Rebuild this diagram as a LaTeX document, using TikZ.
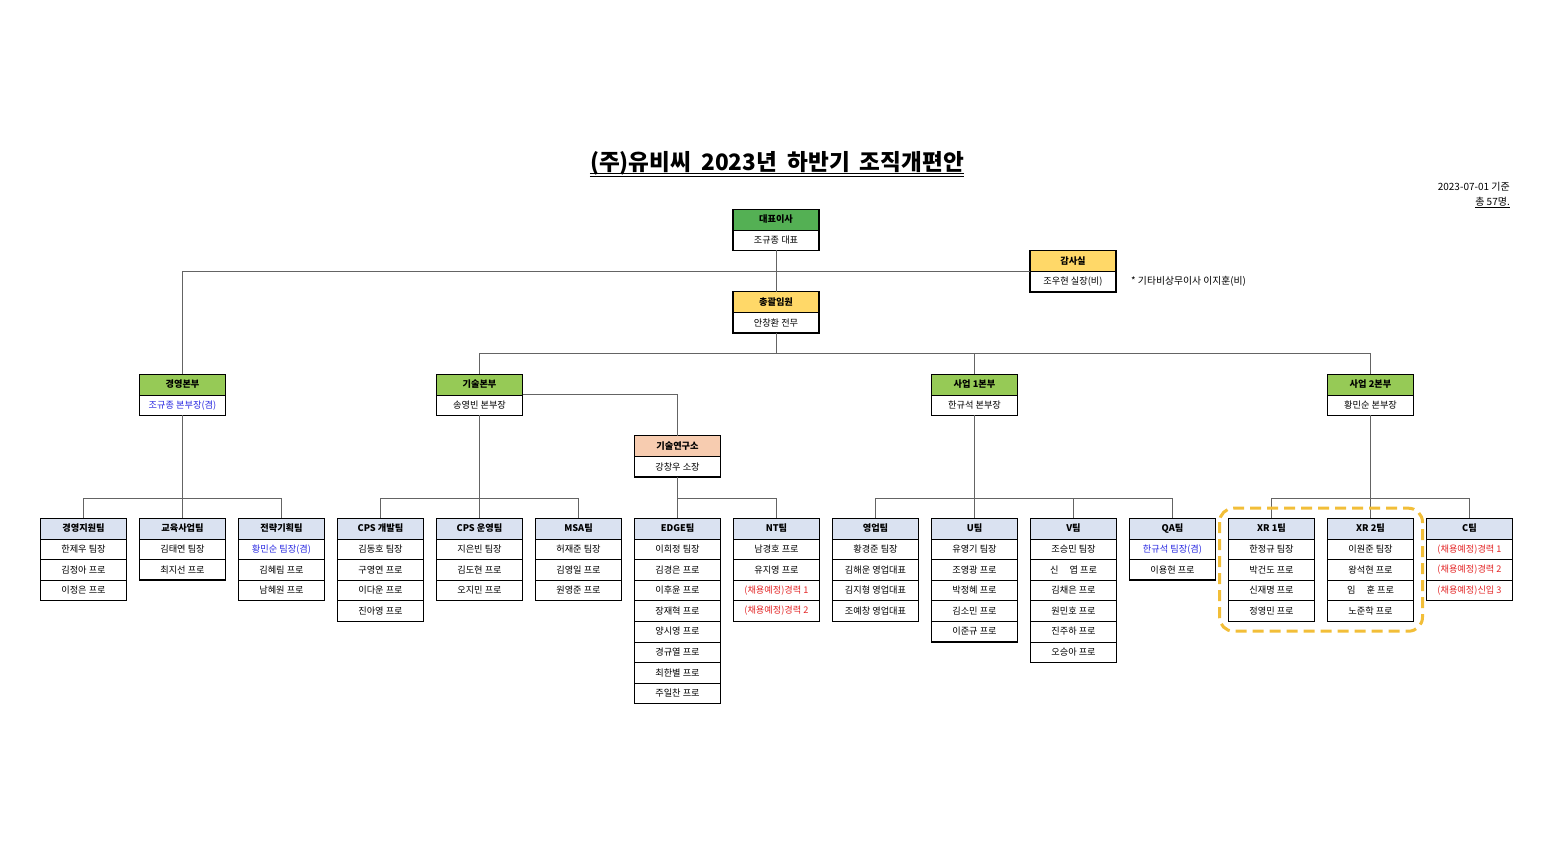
\documentclass[tikz,border=0pt]{standalone}
\usepackage{fontspec}
\setmainfont{Noto Sans CJK KR}
\usepackage{tikz}
\usetikzlibrary{positioning, calc}
\definecolor{ceogreen}{RGB}{84,176,84}
\definecolor{divgreen}{RGB}{150,202,86}
\definecolor{execyellow}{RGB}{255,216,104}
\definecolor{labpeach}{RGB}{247,204,176}
\definecolor{teamblue}{RGB}{218,226,241}
\definecolor{actblue}{RGB}{40,40,225}
\definecolor{hirered}{RGB}{228,40,40}
\definecolor{linkgray}{RGB}{100,100,100}
\definecolor{xrgold}{RGB}{242,190,56}

\begin{document}
\begin{tikzpicture}[
  x=1pt,y=-1pt,
  cell/.style={
    rectangle, draw=black, line width=0.6pt, fill=white,
    minimum width=86pt, minimum height=20.6pt, inner sep=0pt, outer sep=0pt,
    font=\fontsize{9.2}{10}\selectfont
  },
  headcell/.style={cell, font=\fontsize{9.2}{10}\selectfont\bfseries},
  teamhead/.style={headcell, fill=teamblue},
  divhead/.style={headcell, fill=divgreen},
  acting/.style={text=actblue},
  hire/.style={text=hirered},
  boxframe/.style={draw=black, line width=1.3pt},
  conn/.style={draw=linkgray, line width=0.8pt},
  xrframe/.style={draw=xrgold, line width=3pt, dash pattern=on 11pt off 6pt, rounded corners=14pt}
]
\useasboundingbox (0,0) rectangle (1550,846);

% ---- title ----
\node[anchor=base, inner sep=0pt, font=\fontsize{22.6}{26}\selectfont\bfseries] (title) at (777,170) {(주)유비씨\hspace{0.45em}2023년\hspace{0.45em}하반기\hspace{0.45em}조직개편안};
\draw[line width=1.6pt] ([yshift=-3.5pt]title.base west) -- ([yshift=-3.5pt]title.base east);
\draw[line width=0.7pt] ([yshift=-6.3pt]title.base west) -- ([yshift=-6.3pt]title.base east);

\node[anchor=base east, inner sep=0pt, font=\fontsize{10}{12}\selectfont] (date)  at (1510,190) {2023-07-01 기준};
\node[anchor=base east, inner sep=0pt, font=\fontsize{10}{12}\selectfont] (total) at (1510,205) {\underline{총 57명.}};

% ---- top ----
\node[headcell, fill=ceogreen]   (ceo)       at (776,219.5) {대표이사};
\node[cell, below=0pt of ceo]    (ceoName)   {조규종 대표};
\node[headcell, fill=execyellow] (audit)     at (1073,261) {감사실};
\node[cell, below=0pt of audit]  (auditName) {조우현 실장(비)};
\node[anchor=base west, inner sep=0pt, font=\fontsize{9.8}{11}\selectfont] (auditNote) at (1131,284) {* 기타비상무이사 이지훈(비)};
\node[headcell, fill=execyellow] (gm)        at (776,302) {총괄임원};
\node[cell, below=0pt of gm]     (gmName)    {안창환 전무};

% ---- divisions ----
\node[divhead]                    (divMgmt)     at (182.5,384.5)  {경영본부};
\node[cell, acting, below=0pt of divMgmt] (divMgmtName) {조규종 본부장(겸)};
\node[divhead]                    (divTech)     at (479.5,384.5)  {기술본부};
\node[cell, below=0pt of divTech] (divTechName) {송영빈 본부장};
\node[divhead]                    (divBiz1)     at (974.5,384.5)  {사업 1본부};
\node[cell, below=0pt of divBiz1] (divBiz1Name) {한규석 본부장};
\node[divhead]                    (divBiz2)     at (1370.5,384.5) {사업 2본부};
\node[cell, below=0pt of divBiz2] (divBiz2Name) {황민순 본부장};
\node[headcell, fill=labpeach]    (lab)         at (677.5,446)    {기술연구소};
\node[cell, below=0pt of lab]     (labName)     {강창우 소장};

% ---- teams ----
\node[teamhead] (mgmtsup) at (83.5,528.5) {경영지원팀};
\node[cell, below=0pt of mgmtsup]  (mgmtsup1) {한제우 팀장};
\node[cell, below=0pt of mgmtsup1] (mgmtsup2) {김정아 프로};
\node[cell, below=0pt of mgmtsup2] (mgmtsup3) {이정은 프로};

\node[teamhead] (edu) at (182.5,528.5) {교육사업팀};
\node[cell, below=0pt of edu]  (edu1) {김태연 팀장};
\node[cell, below=0pt of edu1] (edu2) {최지선 프로};

\node[teamhead] (strat) at (281.5,528.5) {전략기획팀};
\node[cell, acting, below=0pt of strat] (strat1) {황민순 팀장(겸)};
\node[cell, below=0pt of strat1] (strat2) {김혜림 프로};
\node[cell, below=0pt of strat2] (strat3) {남혜원 프로};

\node[teamhead] (cpsdev) at (380.5,528.5) {CPS 개발팀};
\node[cell, below=0pt of cpsdev]  (cpsdev1) {김동호 팀장};
\node[cell, below=0pt of cpsdev1] (cpsdev2) {구영연 프로};
\node[cell, below=0pt of cpsdev2] (cpsdev3) {이다운 프로};
\node[cell, below=0pt of cpsdev3] (cpsdev4) {진아영 프로};

\node[teamhead] (cpsops) at (479.5,528.5) {CPS 운영팀};
\node[cell, below=0pt of cpsops]  (cpsops1) {지은빈 팀장};
\node[cell, below=0pt of cpsops1] (cpsops2) {김도현 프로};
\node[cell, below=0pt of cpsops2] (cpsops3) {오지민 프로};

\node[teamhead] (msa) at (578.5,528.5) {MSA팀};
\node[cell, below=0pt of msa]  (msa1) {허재준 팀장};
\node[cell, below=0pt of msa1] (msa2) {김영일 프로};
\node[cell, below=0pt of msa2] (msa3) {원영준 프로};

\node[teamhead] (edge) at (677.5,528.5) {EDGE팀};
\node[cell, below=0pt of edge]  (edge1) {이희정 팀장};
\node[cell, below=0pt of edge1] (edge2) {김경은 프로};
\node[cell, below=0pt of edge2] (edge3) {이후윤 프로};
\node[cell, below=0pt of edge3] (edge4) {장재혁 프로};
\node[cell, below=0pt of edge4] (edge5) {양시영 프로};
\node[cell, below=0pt of edge5] (edge6) {경규열 프로};
\node[cell, below=0pt of edge6] (edge7) {최한별 프로};
\node[cell, below=0pt of edge7] (edge8) {주일찬 프로};

\node[teamhead] (nt) at (776.5,528.5) {NT팀};
\node[cell, below=0pt of nt]        (nt1) {남경호 프로};
\node[cell, below=0pt of nt1]       (nt2) {유지영 프로};
\node[cell, hire, below=0pt of nt2] (nt3) {(채용예정)경력 1};
\node[cell, hire, below=0pt of nt3] (nt4) {(채용예정)경력 2};

\node[teamhead] (sales) at (875.5,528.5) {영업팀};
\node[cell, below=0pt of sales]  (sales1) {황경준 팀장};
\node[cell, below=0pt of sales1] (sales2) {김해운 영업대표};
\node[cell, below=0pt of sales2] (sales3) {김지형 영업대표};
\node[cell, below=0pt of sales3] (sales4) {조예창 영업대표};

\node[teamhead] (uteam) at (974.5,528.5) {U팀};
\node[cell, below=0pt of uteam]  (uteam1) {유영기 팀장};
\node[cell, below=0pt of uteam1] (uteam2) {조영광 프로};
\node[cell, below=0pt of uteam2] (uteam3) {박정혜 프로};
\node[cell, below=0pt of uteam3] (uteam4) {김소민 프로};
\node[cell, below=0pt of uteam4] (uteam5) {이준규 프로};

\node[teamhead] (vteam) at (1073.5,528.5) {V팀};
\node[cell, below=0pt of vteam]  (vteam1) {조승민 팀장};
\node[cell, below=0pt of vteam1] (vteam2) {신\hspace{1.2em}엽 프로};
\node[cell, below=0pt of vteam2] (vteam3) {김채은 프로};
\node[cell, below=0pt of vteam3] (vteam4) {원민호 프로};
\node[cell, below=0pt of vteam4] (vteam5) {진주하 프로};
\node[cell, below=0pt of vteam5] (vteam6) {오승아 프로};

\node[teamhead] (qa) at (1172.5,528.5) {QA팀};
\node[cell, acting, below=0pt of qa] (qa1) {한규석 팀장(겸)};
\node[cell, below=0pt of qa1] (qa2) {이용현 프로};

\node[teamhead] (xr1) at (1271.5,528.5) {XR 1팀};
\node[cell, below=0pt of xr1]  (xr1m1) {한정규 팀장};
\node[cell, below=0pt of xr1m1] (xr1m2) {박건도 프로};
\node[cell, below=0pt of xr1m2] (xr1m3) {신재명 프로};
\node[cell, below=0pt of xr1m3] (xr1m4) {정영민 프로};

\node[teamhead] (xr2) at (1370.5,528.5) {XR 2팀};
\node[cell, below=0pt of xr2]  (xr2m1) {이원준 팀장};
\node[cell, below=0pt of xr2m1] (xr2m2) {왕석현 프로};
\node[cell, below=0pt of xr2m2] (xr2m3) {임\hspace{1.2em}훈 프로};
\node[cell, below=0pt of xr2m3] (xr2m4) {노준학 프로};

\node[teamhead] (cteam) at (1469.5,528.5) {C팀};
\node[cell, hire, below=0pt of cteam]  (cteam1) {(채용예정)경력 1};
\node[cell, hire, below=0pt of cteam1] (cteam2) {(채용예정)경력 2};
\node[cell, hire, below=0pt of cteam2] (cteam3) {(채용예정)신입 3};

% ---- heavy outlines ----
\draw[boxframe] (ceo.north west) rectangle (ceoName.south east);
\draw[boxframe] (audit.north west) rectangle (auditName.south east);
\draw[boxframe] (gm.north west) rectangle (gmName.south east);
\draw[boxframe] (divMgmt.north west) rectangle (divMgmtName.south east);
\draw[boxframe] (divTech.north west) rectangle (divTechName.south east);
\draw[boxframe] (divBiz1.north west) rectangle (divBiz1Name.south east);
\draw[boxframe] (divBiz2.north west) rectangle (divBiz2Name.south east);
\draw[boxframe] (lab.north west) rectangle (labName.south east);
\draw[boxframe] (mgmtsup.north west) rectangle (mgmtsup3.south east);
\draw[boxframe] (edu.north west) rectangle (edu2.south east);
\draw[boxframe] (strat.north west) rectangle (strat3.south east);
\draw[boxframe] (cpsdev.north west) rectangle (cpsdev4.south east);
\draw[boxframe] (cpsops.north west) rectangle (cpsops3.south east);
\draw[boxframe] (msa.north west) rectangle (msa3.south east);
\draw[boxframe] (edge.north west) rectangle (edge8.south east);
\draw[boxframe] (nt.north west) rectangle (nt4.south east);
\draw[boxframe] (sales.north west) rectangle (sales4.south east);
\draw[boxframe] (uteam.north west) rectangle (uteam5.south east);
\draw[boxframe] (vteam.north west) rectangle (vteam6.south east);
\draw[boxframe] (qa.north west) rectangle (qa2.south east);
\draw[boxframe] (xr1.north west) rectangle (xr1m4.south east);
\draw[boxframe] (xr2.north west) rectangle (xr2m4.south east);
\draw[boxframe] (cteam.north west) rectangle (cteam3.south east);

% ---- connectors ----
\coordinate (busTop)  at (0,353);
\coordinate (busTeam) at (0,498);

\draw[conn] (ceoName.south) -- (gm.north);
\draw[conn] (divMgmt.north) |- (audit.south west);
\draw[conn] (gmName.south) -- (gmName.south |- busTop);
\draw[conn] (divTech.north) -- (divTech.north |- busTop) -- (divBiz2.north |- busTop) -- (divBiz2.north);
\draw[conn] (divBiz1.north) -- (divBiz1.north |- busTop);
\draw[conn] (divTech.south east) -| (lab.north);

\draw[conn] (divMgmtName.south) -- (edu.north);
\draw[conn] (mgmtsup.north) -- (mgmtsup.north |- busTeam) -- (strat.north |- busTeam) -- (strat.north);
\draw[conn] (divTechName.south) -- (cpsops.north);
\draw[conn] (cpsdev.north) -- (cpsdev.north |- busTeam) -- (msa.north |- busTeam) -- (msa.north);
\draw[conn] (labName.south) -- (edge.north);
\draw[conn] (edge.north |- busTeam) -- (nt.north |- busTeam) -- (nt.north);
\draw[conn] (divBiz1Name.south) -- (uteam.north);
\draw[conn] (sales.north) -- (sales.north |- busTeam) -- (qa.north |- busTeam) -- (qa.north);
\draw[conn] (vteam.north) -- (vteam.north |- busTeam);
\draw[conn] (divBiz2Name.south) -- (xr2.north);
\draw[conn] (xr1.north) -- (xr1.north |- busTeam) -- (cteam.north |- busTeam) -- (cteam.north);

% ---- XR group highlight ----
\draw[xrframe] ([shift={(-9,-10)}]xr1.north west) rectangle ([shift={(9,10)}]xr2m4.south east);

\end{tikzpicture}
\end{document}
